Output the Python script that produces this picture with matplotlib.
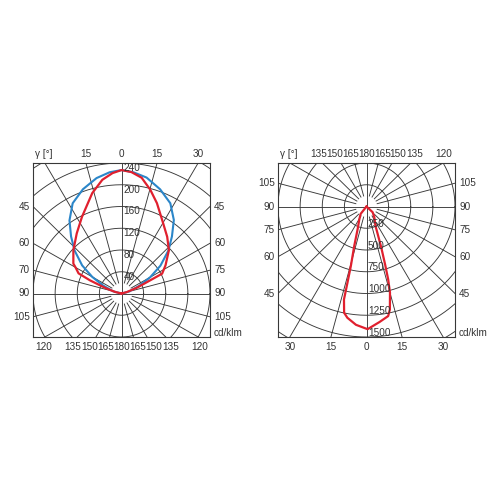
import numpy as np
import matplotlib
matplotlib.use("Agg")
import matplotlib.pyplot as plt

plt.rcParams['font.family'] = ['Liberation Sans', 'DejaVu Sans']

# ---- left diagram (cd/klm), gamma 0 = up, negative = left half
left_step = 40
left_rings = [40, 80, 120, 160, 200, 240]

blue_gamma = [-90, -75, -66, -60, -54, -47, -41, -35, -28, -20, -12, -5.5, 0,
              5.5, 12, 20, 28, 35, 41, 47, 54, 60, 66, 75, 90]
blue_cd = [0, 16, 37, 61, 88, 116, 139, 164, 188, 204, 217, 224, 227,
           224, 218, 204, 188, 165, 139, 116, 87, 60, 36, 15, 0]

red_gamma = [-90, -76, -71, -67, -64.5, -60, -57.7, -47.5, -36.2, -26.9, -16, -9.4, -4.2, 0,
             4.6, 9.7, 15.2, 21.1, 28.5, 38.4, 47.1, 56.9, 63.6, 65, 69, 75, 90]
red_cd = [0, 12, 30, 62, 86, 96, 103, 118, 137, 158, 192, 212, 222, 227,
          224, 216, 198, 178, 154, 133, 117, 95, 82, 57, 30, 10, 0]

# ---- right diagram (cd/klm), gamma 0 = down
right_step = 250
right_rings = [250, 500, 750, 1000, 1250, 1500]

red2_gamma = [-90, -38, -29, -21, -17, -14.5, -13.8, -13.4, -11.7, -9.6, -5, 0.5,
              6.4, 11, 12.6, 15, 16.3, 17.5, 19.5, 22, 24.6, 35.7, 46.5, 90]
red2_cd = [0, 107, 167, 280, 473, 706, 902, 1098, 1247, 1297, 1365, 1410,
           1335, 1283, 1212, 1025, 872, 700, 500, 330, 241, 152, 95, 0]

GRID = '#383838'
TXT = '#333333'
FS = 7.2


def polar_grid(ax, step, up):
    # up: rings above centre, box is 4 rings wide each side, 8 rings tall
    down = 8 - up
    ax.set_xlim(-4 * step, 4 * step)
    ax.set_ylim(-down * step, up * step)
    ax.set_xticks([])
    ax.set_yticks([])
    for sp in ax.spines.values():
        sp.set_color(GRID)
        sp.set_linewidth(0.8)
    t = np.linspace(0, 2 * np.pi, 361)
    for k in range(1, 10):
        ax.plot(k * step * np.cos(t), k * step * np.sin(t), color=GRID, lw=0.65)
    for a in range(0, 360, 15):
        r = np.radians(a)
        if a % 90 == 0:
            r0 = 0
        else:
            r0 = 0.5 * step
        ax.plot([r0 * np.sin(r), 12 * step * np.sin(r)],
                [r0 * np.cos(r), 12 * step * np.cos(r)], color=GRID, lw=0.65)


def curve_xy(gamma, cd, up):
    g = np.radians(np.array(gamma))
    I = np.array(cd, dtype=float)
    y = I * np.cos(g)
    return I * np.sin(g), (y if up else -y)


fig = plt.figure(figsize=(5, 5), dpi=100)

# ---------------- left
ax1 = fig.add_axes([0.066, 0.326, 0.354, 0.348])
polar_grid(ax1, left_step, 6)
x, y = curve_xy(blue_gamma, blue_cd, True)
ax1.plot(x, y, color='#2b86c9', lw=1.5, solid_joinstyle='round')
x, y = curve_xy(red_gamma, red_cd, True)
ax1.plot(x, y, color='#e0202e', lw=1.6, solid_joinstyle='round')
for v in left_rings:
    ax1.text(0.09 * left_step, v - 0.22 * left_step, str(v), fontsize=FS,
             color=TXT, ha='left', va='center')

s = left_step
px = s / 21.6  # data units per pixel
for lab, a in zip(['15', '0', '15', '30'], [-15, 0, 15, 30]):
    ax1.text(6 * s * np.tan(np.radians(a)), 6 * s + 9 * px, lab, fontsize=FS,
             color=TXT, ha='center', va='center', clip_on=False)
ax1.text(-4 * s + 2 * px, 6 * s + 9 * px, 'γ [°]', fontsize=FS, color=TXT,
         ha='left', va='center', clip_on=False)
for lab, a in zip(['45', '60', '70', '90', '105'], [45, 60, 75, 90, 105]):
    ax1.text(-4 * s - 3 * px, 4 * s / np.tan(np.radians(a)), lab, fontsize=FS,
             color=TXT, ha='right', va='center', clip_on=False)
for lab, a in zip(['45', '60', '75', '90', '105'], [45, 60, 75, 90, 105]):
    ax1.text(4 * s + 4 * px, 4 * s / np.tan(np.radians(a)), lab, fontsize=FS,
             color=TXT, ha='left', va='center', clip_on=False)
bottom_labels = ['120', '135', '150', '165', '180', '165', '150', '135', '120']
bottom_off = [-76, -48, -31, -15.5, 0, 15.5, 31, 48, 76]
for lab, o in zip(bottom_labels, bottom_off):
    ax1.text(o * px, -2 * s - 10 * px, lab, fontsize=FS, color=TXT,
             ha='center', va='center', clip_on=False)
ax1.text(4 * s + 4 * px, -2 * s + 4 * px, 'cd/klm', fontsize=FS, color=TXT,
         ha='left', va='center', clip_on=False)

# ---------------- right
ax2 = fig.add_axes([0.556, 0.326, 0.354, 0.348])
polar_grid(ax2, right_step, 2)
x, y = curve_xy(red2_gamma, red2_cd, False)
ax2.plot(x, y, color='#e0202e', lw=1.6, solid_joinstyle='round')
for v in right_rings:
    ax2.text(0.06 * right_step, -v + 0.2 * right_step, str(v), fontsize=FS,
             color=TXT, ha='left', va='center')

s = right_step
px = s / 21.7
top_labels = ['135', '150', '165', '180', '165', '150', '135', '120']
top_off = [-47, -31, -15.5, 0, 15.5, 31, 47, 76]
for lab, o in zip(top_labels, top_off):
    ax2.text(o * px, 2 * s + 9 * px, lab, fontsize=FS, color=TXT,
             ha='center', va='center', clip_on=False)
ax2.text(-4 * s + 2 * px, 2 * s + 9 * px, 'γ [°]', fontsize=FS, color=TXT,
         ha='left', va='center', clip_on=False)
for lab, a in zip(['105', '90', '75', '60', '45'], [105, 90, 75, 60, 45]):
    yy = -4 * s / np.tan(np.radians(a))
    ax2.text(-4 * s - 3 * px, yy, lab, fontsize=FS, color=TXT,
             ha='right', va='center', clip_on=False)
    ax2.text(4 * s + 4 * px, yy, lab, fontsize=FS, color=TXT,
             ha='left', va='center', clip_on=False)
for lab, a in zip(['30', '15', '0', '15', '30'], [-30, -15, 0, 15, 30]):
    ax2.text(6 * s * np.tan(np.radians(a)), -6 * s - 10 * px, lab, fontsize=FS,
             color=TXT, ha='center', va='center', clip_on=False)
ax2.text(4 * s + 4 * px, -6 * s + 4 * px, 'cd/klm', fontsize=FS, color=TXT,
         ha='left', va='center', clip_on=False)

fig.savefig('out.png', dpi=100, facecolor='white')
